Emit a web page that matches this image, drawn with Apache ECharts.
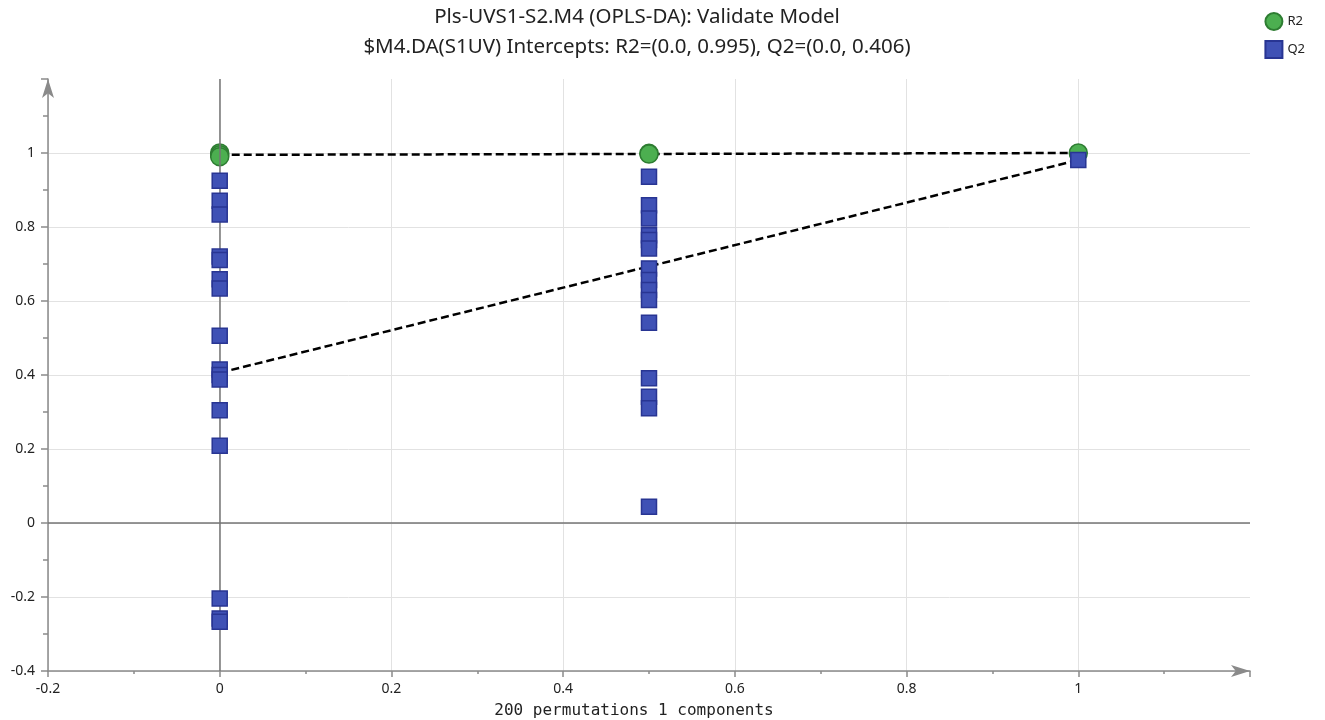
<!DOCTYPE html>
<html>
<head>
<meta charset="utf-8">
<title>Validate Model</title>
<script src="https://cdn.jsdelivr.net/npm/echarts@6/dist/echarts.min.js"></script>
<style>
  html, body { margin: 0; padding: 0; background: #fff; }
  #chart { width: 1325px; height: 720px; }
</style>
</head>
<body>
<div id="chart"></div>
<script>
// 置换检验数据
// x = 置换后 Y 与原始 Y 的相关系数
const permCorr = [0, 0.5]
const r2AtZero = [1.0, 0.995, 0.99]
const q2AtZero = [0.925, 0.871, 0.834, 0.72, 0.711, 0.659, 0.634, 0.506, 0.415, 0.4, 0.388, 0.305, 0.209, -0.204, -0.258, -0.267]
const r2AtHalf = [0.999, 0.997]
const q2AtHalf = [0.936, 0.859, 0.823, 0.778, 0.765, 0.742, 0.688, 0.657, 0.63, 0.603, 0.541, 0.391, 0.341, 0.31, 0.044]
// 原始模型
const origCorr = 1
const r2Orig = 1.0
const q2Orig = 0.981
// 截距
const r2Intercept = 0.995
const q2Intercept = 0.406

const titleLines = [
  'Pls-UVS1-S2.M4 (OPLS-DA): Validate Model',
  '$M4.DA(S1UV) Intercepts: R2=(0.0, 0.995), Q2=(0.0, 0.406)'
]
const xAxisName = '200 permutations 1 components'

const toPoints = (x, ys) => ys.map(y => [x, y])

const r2Data = toPoints(permCorr[0], r2AtZero)
  .concat(toPoints(permCorr[1], r2AtHalf))
  .concat([[origCorr, r2Orig]])
const q2Data = toPoints(permCorr[0], q2AtZero)
  .concat(toPoints(permCorr[1], q2AtHalf))
  .concat([[origCorr, q2Orig]])

const chart = echarts.init(document.getElementById('chart'))

const labelFont = { color: '#222', fontSize: 14, fontFamily: 'Noto Sans' }
const axisGray = '#8a8a8a'

const option = {
  animation: false,
  title: {
    text: titleLines.join('\n'),
    left: 637,
    textAlign: 'center',
    top: 2,
    padding: 0,
    textStyle: {
      fontFamily: 'Noto Sans',
      fontSize: 20.5,
      fontWeight: 'normal',
      color: '#222',
      lineHeight: 30
    }
  },
  legend: {
    data: [
      { name: 'R2', icon: 'circle' },
      { name: 'Q2', icon: 'rect' }
    ],
    orient: 'vertical',
    right: 20,
    top: 12,
    padding: 0,
    itemWidth: 17,
    itemHeight: 17,
    itemGap: 9,
    textStyle: { color: '#222', fontSize: 13, fontFamily: 'Noto Sans' }
  },
  grid: {
    left: 48,
    right: 75,
    top: 79,
    bottom: 49,
    outerBoundsMode: 'none'
  },
  xAxis: {
    type: 'value',
    min: -0.2,
    max: 1.2,
    interval: 0.2,
    name: xAxisName,
    nameLocation: 'middle',
    nameGap: 32,
    nameTextStyle: { color: '#222', fontSize: 16, fontFamily: 'DejaVu Sans Mono', padding: [0, 30, 0, 0] },
    axisLine: {
      onZero: false,
      symbol: ['none', 'arrow'],
      symbolSize: [9, 19],
      lineStyle: { color: axisGray, width: 1.5 }
    },
    axisTick: { show: true, length: 6, lineStyle: { color: axisGray, width: 1.5 } },
    minorTick: { show: true, splitNumber: 2, length: 3, lineStyle: { color: axisGray, width: 1.5 } },
    axisLabel: Object.assign({ margin: 11, showMaxLabel: false }, labelFont),
    splitLine: { show: true, showMaxLine: false, lineStyle: { color: '#e2e2e2', width: 1 } }
  },
  yAxis: {
    type: 'value',
    min: -0.4,
    max: 1.2,
    interval: 0.2,
    axisLine: {
      show: true,
      onZero: false,
      symbol: ['none', 'arrow'],
      symbolSize: [9, 19],
      lineStyle: { color: axisGray, width: 1.5 }
    },
    axisTick: { show: true, length: 7, lineStyle: { color: axisGray, width: 1.5 } },
    minorTick: { show: true, splitNumber: 2, length: 5, lineStyle: { color: axisGray, width: 1.5 } },
    axisLabel: Object.assign({ margin: 13, showMaxLabel: false }, labelFont),
    splitLine: { show: true, showMaxLine: false, lineStyle: { color: '#e2e2e2', width: 1 } }
  },
  series: [
    {
      // 零线
      name: 'zero',
      type: 'line',
      data: [],
      silent: true,
      markLine: {
        silent: true,
        symbol: 'none',
        label: { show: false },
        lineStyle: { color: '#757575', type: 'solid', width: 1.5 },
        data: [{ xAxis: 0 }, { yAxis: 0 }]
      }
    },
    {
      name: 'R2 line',
      type: 'line',
      data: [[0, r2Intercept], [origCorr, r2Orig]],
      showSymbol: false,
      silent: true,
      z: 3,
      lineStyle: { color: '#000', width: 2.5, type: [8, 4] }
    },
    {
      name: 'Q2 line',
      type: 'line',
      data: [[0, q2Intercept], [origCorr, q2Orig]],
      showSymbol: false,
      silent: true,
      z: 3,
      lineStyle: { color: '#000', width: 2.5, type: [8, 4] }
    },
    {
      name: 'R2',
      type: 'scatter',
      symbol: 'circle',
      symbolSize: 18,
      z: 4,
      itemStyle: { color: '#4CAF50', borderColor: '#2E7D32', borderWidth: 1.5, opacity: 1 },
      data: r2Data
    },
    {
      name: 'Q2',
      type: 'scatter',
      symbol: 'rect',
      symbolSize: 15,
      z: 5,
      itemStyle: { color: '#3F51B5', borderColor: '#283593', borderWidth: 1.5, opacity: 1 },
      data: q2Data
    }
  ]
}

chart.setOption(option)
</script>
</body>
</html>
